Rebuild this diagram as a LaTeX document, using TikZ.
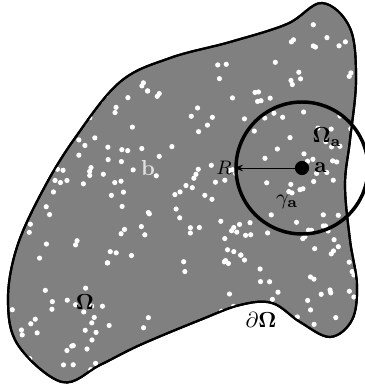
\documentclass[tikz,border=0pt]{standalone}
\usepackage{amsmath,amssymb,bm}
\usepackage{xcolor}
\usepackage{tikz}
\usetikzlibrary{arrows.meta,positioning}

\begin{document}
\begin{tikzpicture}[x=0.46pt,y=-0.46pt,>={Stealth[length=4pt,width=3pt]}]
\tikzstyle{region}=[fill=black!50,draw=black,line width=1pt]
\tikzstyle{speck}=[fill=white,draw=none]
\tikzstyle{ballline}=[draw=black,line width=1.6pt]
\tikzstyle{lbl}=[inner sep=1pt]
\useasboundingbox (0,0) rectangle (364,390);
% the domain
\def\domain{plot[smooth cycle,tension=0.6] coordinates {
  (322,3) (350,28) (356,80) (350,140) (345,185) (350,240) (357,285)
  (352,320) (330,337) (300,322) (272,303) (240,305) (200,320)
  (140,345) (100,365) (62,382) (18,345) (8,300) (17,247) (43,190)
  (75,138) (120,82) (170,58) (230,42) (287,24)}}
\path[region] \domain;
% random specks
\begin{scope}
\clip \domain;
\pgfmathsetseed{4217}
\foreach \i in {1,...,240}{
  \pgfmathsetmacro{\px}{rnd*364}
  \pgfmathsetmacro{\py}{rnd*390}
  \pgfmathsetmacro{\qx}{\px+(rnd-0.5)*28}
  \pgfmathsetmacro{\qy}{\py+(rnd-0.5)*28}
  \fill[speck] (\px,\py) circle (2.6);
  \pgfmathparse{rnd<0.4?1:0}
  \ifnum\pgfmathresult=1 \fill[speck] (\qx,\qy) circle (2.6);\fi
}
\end{scope}
\path[draw=black,line width=1pt] \domain;
% the ball
\node[circle,fill=black,inner sep=0pt,minimum size=6.5pt] (a) at (302,168) {};
\node[circle,ballline,inner sep=0pt,minimum size=132*0.46pt] (ball) at (a) {};
\draw[->,line width=0.4pt] (a) -- (ball.west);
\node[lbl,left=0pt of ball.west] (R) {\small$R$};
\node[lbl,right=1pt of a] (alab) {$\mathbf{a}$};
\node[lbl] (Oa) at (327,137) {$\bm{\Omega}_{\mathbf{a}}$};
\node[lbl] (ga) at (287,202) {$\gamma_{\mathbf{a}}$};
% labels of the domain
\node[lbl,text=white!88!black] (b) at (148,168) {$\mathbf{b}$};
\node[lbl] (Om) at (85,302) {$\bm{\Omega}$};
\node[lbl] (bd) at (261,320) {$\partial\bm{\Omega}$};
\end{tikzpicture}
\end{document}
